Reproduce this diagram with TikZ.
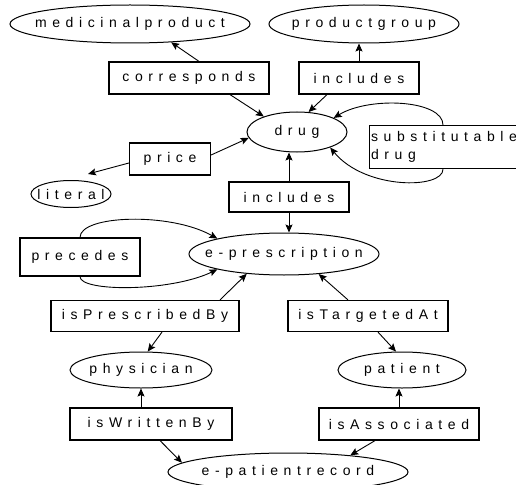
\documentclass[tikz,border=0pt]{standalone}
\usepackage{fontspec}
\newfontfamily\lblfont{Liberation Sans}[LetterSpace=40]
\usetikzlibrary{shapes.geometric,arrows.meta,calc}
% keeps oval labels from widening their ellipse
\newcommand\ovl[1]{\makebox[0pt]{#1}}
\begin{document}
\begin{tikzpicture}[x=1pt,y=-1pt,
  lbl/.style={font={\lblfont\fontsize{14}{18}\selectfont}},
  box/.style={lbl,draw,rectangle,line width=1.2pt,inner sep=0pt},
  oval/.style={lbl,draw,ellipse,line width=1pt,inner sep=0pt},
  arr/.style={line width=0.9pt,-{Stealth[length=8pt,width=7pt,inset=1.5pt]}}]
\useasboundingbox (0,0) rectangle (516,484);

% classes
\node[oval,minimum width=240,minimum height=38] (med) at (130,24) {\ovl{medicinalproduct}};
\node[oval,minimum width=190,minimum height=38] (pg) at (364,24) {\ovl{productgroup}};
\node[oval,minimum width=100,minimum height=40] (drug) at (297,132) {\ovl{drug}};
\node[oval,minimum width=80,minimum height=27] (lit) at (71,194) {\ovl{literal}};
\node[oval,minimum width=190,minimum height=42] (ep) at (284,254) {\ovl{e-prescription}};
\node[oval,minimum width=142,minimum height=36] (phys) at (141,370) {\ovl{physician}};
\node[oval,minimum width=128,minimum height=36] (pat) at (402,370) {\ovl{patient}};
\node[oval,minimum width=240,minimum height=38] (epr) at (288,472) {\ovl{e-patientrecord}};

% properties
\node[box,minimum width=160,minimum height=32] (corr) at (189,78) {corresponds};
\node[box,minimum width=120,minimum height=32] (inc1) at (359,78) {includes};
\node[box,anchor=north west,text width=148,align=left,inner xsep=1.5pt,minimum height=43] (subst) at (369,125) {substitutable\\drug};
\node[box,minimum width=81,minimum height=32] (price) at (170,159) {price};
\node[box,minimum width=120,minimum height=30] (inc2) at (289,197) {includes};
\node[box,minimum width=120,minimum height=38] (prec) at (80,257) {precedes};
\node[box,minimum width=188,minimum height=31] (ispb) at (145,316) {isPrescribedBy};
\node[box,minimum width=160,minimum height=31] (ista) at (368,316) {isTargetedAt};
\node[box,minimum width=162,minimum height=32] (iswb) at (151,424) {isWrittenBy};
\node[box,minimum width=160,minimum height=32] (isas) at (399,424) {isAssociated};

% connectors
\draw[arr] ([xshift=10pt]corr.north) -- (med.-24);
\draw[arr] (inc1.north) -- (inc1.north |- pg.south);
\draw[arr] ([xshift=41pt]corr.south) -- (drug.155);
\draw[arr] ([xshift=-32pt]inc1.south) -- (drug.60);
\draw[arr] ([xshift=74pt]subst.north west) .. controls +(0,-25) and (370,96) .. (drug.21);
\draw[arr] ([xshift=74pt]subst.south west) .. controls +(0,20) and (365,190) .. (drug.-25);
\draw[arr] ([yshift=4pt]price.east) -- (drug.187);
\draw[arr] ([yshift=-4pt]price.west) -- ([shift={(17,-6)}]lit.north);
\draw[arr] (inc2.north) -- (inc2.north |- drug.south);
\draw[arr] (inc2.south) -- (inc2.south |- ep.north);
\draw[arr] (prec.north) .. controls (80,215) and (170,212) .. (ep.167);
\draw[arr] (prec.south) .. controls (80,292) and (170,292) .. (ep.193);
\draw[arr] ([xshift=75pt]ispb.north) -- (ep.208);
\draw[arr] ([xshift=-20pt]ista.north) -- (ep.-30);
\draw[arr] ([xshift=17pt]ispb.south) -- (phys.70);
\draw[arr] ([xshift=10pt]ista.south) -- (pat.108);
\draw[arr] (iswb.north -| phys.south) -- (phys.south);
\draw[arr] (isas.north) -- (isas.north |- pat.south);
\draw[arr] ([xshift=9pt]iswb.south) -- (epr.175);
\draw[arr] ([xshift=-24pt]isas.south) -- (epr.15);
\end{tikzpicture}
\end{document}
